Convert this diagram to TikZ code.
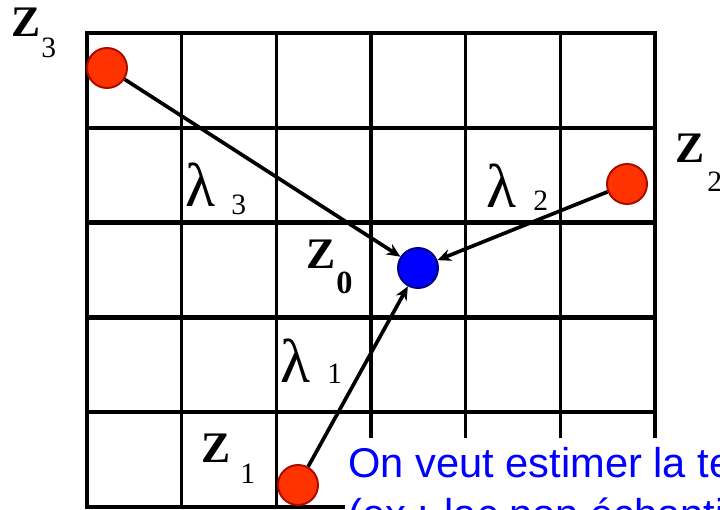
\documentclass[tikz,border=0pt]{standalone}
\usepackage{fontspec}
\setmainfont{Liberation Serif}
\newfontfamily\notefont{Liberation Sans}
\usepackage{tikz}
\usetikzlibrary{arrows.meta,positioning}
\definecolor{ptred}{RGB}{255,51,0}
\definecolor{ptredline}{RGB}{170,10,0}
\definecolor{ptblue}{RGB}{0,0,255}
\definecolor{ptblueline}{RGB}{0,0,130}
\definecolor{noteblue}{RGB}{0,0,255}

\begin{document}
\begin{tikzpicture}[x=0.025cm, y=-0.025cm,
  gridv/.style={line width=2.3pt, black},
  gridh/.style={line width=3.2pt, black, line cap=rect},
  redpt/.style={circle, fill=ptred, draw=ptredline, line width=1.4pt, minimum size=1cm, inner sep=0pt},
  bluept/.style={circle, fill=ptblue, draw=ptblueline, line width=1.4pt, minimum size=1cm, inner sep=0pt},
  link/.style={-{Stealth[length=3.4mm, width=3mm]}, line width=2.6pt, black},
  zsym/.style={anchor=base west, inner sep=0pt, font=\fontsize{31}{34}\selectfont\bfseries},
  lsym/.style={anchor=base west, inner sep=0pt, font=\fontsize{44}{46}\selectfont},
  subs/.style={anchor=base west, inner sep=0pt, font=\fontsize{21}{23}\selectfont},
  note/.style={anchor=base west, inner sep=0pt, text=noteblue, font=\notefont\fontsize{29.6}{34}\selectfont}]
\useasboundingbox (0,0) rectangle (720,510);
\clip (0,0) rectangle (720,510);
\fill[white] (0,0) rectangle (720,510);
% grid 6 x 5
\foreach \i in {0,...,6}
  \draw[gridv] ({87+94.67*\i},33) -- ({87+94.67*\i},507);
\foreach \j in {0,...,5}
  \draw[gridh] (87,{33+94.8*\j}) -- (655,{33+94.8*\j});
% box behind the note
\fill[white] (345,438) rectangle (730,520);
% points
\node[bluept] (z0) at (418,268) {};
\node[redpt] (z1) at (298,485) {};
\node[redpt] (z2) at (627,184) {};
\node[redpt] (z3) at (107,68) {};
\draw[link] (z3) -- (z0);
\draw[link] (z2) -- (z0);
\draw[link] (z1) -- (z0);
% labels
\node[zsym] (lz3) at (11,37) {Z};
\node[subs] (sz3) at (41,58) {3};
\node[zsym] (lz2) at (675,163) {Z};
\node[subs] (sz2) at (707,192) {2};
\node[zsym] (lz1) at (201,462) {Z};
\node[subs] (sz1) at (240,483) {1};
\node[zsym] (lz0) at (306,268) {Z};
\node[subs, font=\fontsize{23}{25}\selectfont\bfseries] (sz0) at (336,293) {0};
\node[lsym] (lam3) at (185,207) {λ};
\node[subs] (sl3) at (231,215) {3};
\node[lsym] (lam2) at (486,208) {λ};
\node[subs] (sl2) at (533,211) {2};
\node[lsym] (lam1) at (280,382) {λ};
\node[subs] (sl1) at (327,383) {1};
% note
\node[note] (note1) at (348,477) {On veut estimer la te};
\node[note] (note2) at (348,528) {(ex : lac non échanti};
\end{tikzpicture}
\end{document}
